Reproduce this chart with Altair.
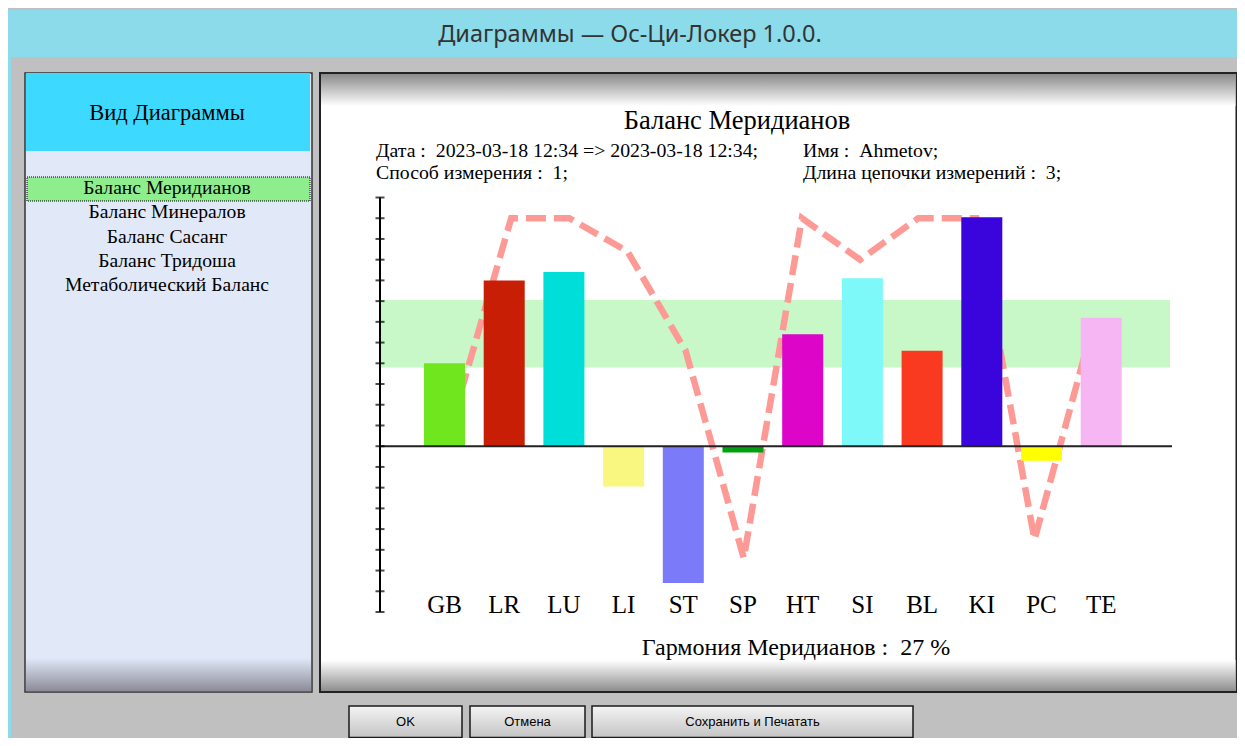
import altair as alt
import pandas as pd

# ---------------- data ----------------
meridians = ["GB", "LR", "LU", "LI", "ST", "SP", "HT", "SI", "BL", "KI", "PC", "TE"]
bar_values = [4.0, 8.0, 8.4, -1.95, -6.6, -0.3, 5.4, 8.1, 4.6, 11.05, -0.7, 6.2]
line_values = [1.3, 11.0, 11.0, 9.4, 4.6, -5.4, 11.0, 9.0, 11.0, 11.0, -4.5, 5.8]
bar_colors = ["#70E61E", "#C81E05", "#00DEDA", "#FAF780", "#7B7BFA", "#00A010",
              "#DC05C8", "#7DF9F9", "#F93A20", "#3A05DC", "#FFFF00", "#F5B6F3"]
norm_low = [3.8]
norm_high = [7.05]
tick_values = list(range(-8, 13))
menu_items = ["Баланс Меридианов", "Баланс Минералов", "Баланс Сасанг",
              "Баланс Тридоша", "Метаболический Баланс"]
button_labels = ["OK", "Отмена", "Сохранить и Печатать"]

window_title = "Диаграммы — Ос-Ци-Локер 1.0.0."
panel_title = "Вид Диаграммы"
chart_title = "Баланс Меридианов"
info_date = "Дата :\u00a0 2023-03-18 12:34 => 2023-03-18 12:34;"
info_name = "Имя :\u00a0 Ahmetov;"
info_method = "Способ измерения :\u00a0 1;"
info_chain = "Длина цепочки измерений :\u00a0 3;"
footer_text = "Гармония Меридианов :\u00a0 27 %"

df = pd.DataFrame({"meridian": meridians, "value": bar_values,
                   "line": line_values, "color": bar_colors})
df_band = pd.DataFrame({"low": norm_low, "high": norm_high})
df_ticks = pd.DataFrame({"t": tick_values})
df_menu = pd.DataFrame({"item": menu_items})
one = pd.DataFrame({"k": [0]})

# canvas fits the 1245x746 window minus the 8px page margins (no scrollbars)
W, H = 1229, 730
SERIF = "Liberation Serif"

# ---------------- helpers (decoration only) ----------------
def box(x, x2, y, y2, **mark):
    return alt.Chart(one).mark_rect(**mark).encode(
        x=alt.value(x), x2=alt.value(x2), y=alt.value(y), y2=alt.value(y2))

def label(text, x, y, **mark):
    opts = dict(font=SERIF, color="black", baseline="middle", align="center")
    opts.update(mark)
    return alt.Chart(one).mark_text(text=text, **opts).encode(
        x=alt.value(x), y=alt.value(y))

def vgrad(c0, c1):
    return alt.LinearGradient(gradient="linear",
                              stops=[alt.GradientStop(color=c0, offset=0),
                                     alt.GradientStop(color=c1, offset=1)],
                              x1=0, x2=0, y1=0, y2=1)

# ---------------- scales ----------------
xscale = alt.Scale(domain=meridians, range=[416, 1113.7], paddingInner=0.313,
                   paddingOuter=0, round=False)
yscale = alt.Scale(domain=[-8, 12], range=[604, 189.5], nice=False, zero=False)

layers = []
# window chrome
layers.append(box(0, W, 2, 49, fill="#8CDBEA"))
layers.append(box(0, 3, 2, H, fill="#8CDBEA"))
layers.append(label(window_title, 622, 27, font="Noto Sans", fontSize=23.5, color="#333333"))

# left panel
layers.append(box(17, 304, 65, 684, fill="#E1E8F8", stroke="#333333", strokeWidth=1.5))
layers.append(box(18, 303, 650, 683, fill=vgrad("#E1E8F8", "#8C8C98")))
layers.append(box(18, 302, 65, 143, fill="#3DD9FF"))
layers.append(label(panel_title, 159, 105, fontSize=22.5))
layers.append(box(19, 302, 169, 193, fill="#8EEE8E", stroke="black", strokeWidth=1, strokeDash=[1, 1]))
layers.append(
    alt.Chart(df_menu).mark_text(font=SERIF, fontSize=19.6, color="black", baseline="middle").encode(
        y=alt.Y("item:N", sort=menu_items, scale=alt.Scale(type="point", range=[180, 277], padding=0), axis=None),
        x=alt.value(159),
        text="item:N",
    )
)

# main panel
layers.append(box(312, 1228.5, 65, 684, fill="white", stroke="#222222", strokeWidth=2))
layers.append(box(313, 1227.5, 66, 98, fill=vgrad("#8A8A8A", "#FFFFFF")))
layers.append(box(313, 1227.5, 652, 683, fill=vgrad("#FFFFFF", "#8E8E8E")))
layers.append(label(chart_title, 729, 113, fontSize=26.5))
layers.append(label(info_date, 368, 143, fontSize=19.8, align="left"))
layers.append(label(info_name, 795, 143, fontSize=19.8, align="left"))
layers.append(label(info_method, 368, 165, fontSize=19.8, align="left"))
layers.append(label(info_chain, 795, 165, fontSize=19.8, align="left"))
layers.append(label(footer_text, 788, 640, fontSize=24))

# plot: norm band
layers.append(
    alt.Chart(df_band).mark_rect(color="#C8F8C8").encode(
        y=alt.Y("low:Q", scale=yscale, axis=None), y2="high:Q",
        x=alt.value(372), x2=alt.value(1162))
)
# dashed line (under bars)
layers.append(
    alt.Chart(df).mark_line(color="#FE9A96", strokeWidth=6.5, strokeDash=[20, 8]).encode(
        x=alt.X("meridian:N", sort=meridians, scale=xscale, axis=None),
        y=alt.Y("line:Q", scale=yscale, axis=None))
)
# bars
layers.append(
    alt.Chart(df).mark_bar().encode(
        x=alt.X("meridian:N", sort=meridians, scale=xscale,
                axis=alt.Axis(orient="bottom", offset=604 - H, domain=False, ticks=False, tickSize=0,
                              labelPadding=0, labelBaseline="alphabetic", labelAngle=0,
                              labelFont=SERIF, labelFontSize=25, labelColor="black",
                              grid=False, title=None, zindex=2)),
        y=alt.Y("value:Q", scale=yscale, axis=None),
        color=alt.Color("color:N", scale=None))
)
# zero line, axis line, ticks
layers.append(
    alt.Chart(one).mark_rule(color="#222222", strokeWidth=2).encode(
        y=alt.Y("datum_zero:Q", scale=yscale, axis=None), x=alt.value(372), x2=alt.value(1164)
    ).transform_calculate(datum_zero="0")
)
layers.append(
    alt.Chart(one).mark_rule(color="black", strokeWidth=2).encode(
        y=alt.Y("lo:Q", scale=yscale, axis=None), y2="hi:Q", x=alt.value(372)
    ).transform_calculate(lo=str(tick_values[0]), hi=str(tick_values[-1]))
)
layers.append(
    alt.Chart(df_ticks).mark_tick(orient="horizontal", size=9, thickness=2, color="black").encode(
        y=alt.Y("t:Q", scale=yscale, axis=None), x=alt.value(372))
)

# buttons
button_boxes = [(341, 454), (462, 577), (584, 905)]
for (bx0, bx1), txt in zip(button_boxes, button_labels):
    layers.append(box(bx0, bx1, 698, 729.5, fill=vgrad("#F4F4F4", "#C4C4C4"), stroke="#1A1A1A", strokeWidth=1.5))
    layers.append(label(txt, (bx0 + bx1) / 2, 714, font="Liberation Sans", fontSize=13, color="black"))

chart = alt.layer(*layers).resolve_scale(x="independent", y="independent").properties(
    width=W, height=H, padding=0, autosize=alt.AutoSizeParams(type="none")
).configure_view(fill="#C0C0C0", stroke=None)

chart.save("out.html", embed_options={"renderer": "svg", "actions": False})
